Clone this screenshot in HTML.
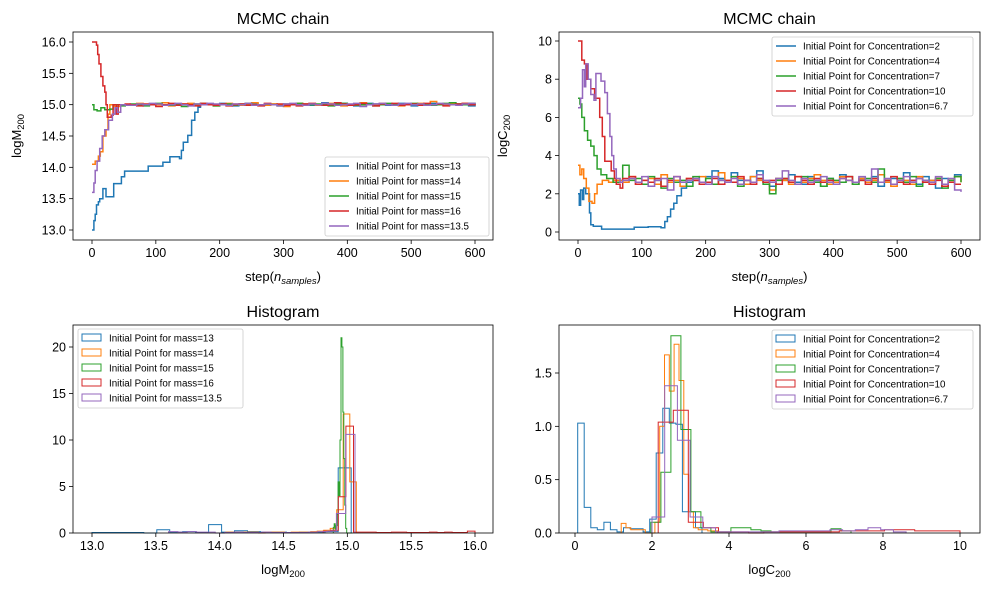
<!DOCTYPE html>
<html><head><meta charset="utf-8"><style>
body{margin:0;background:#fff}
svg{display:block;font-family:"Liberation Sans","DejaVu Sans",sans-serif}
</style></head><body>
<svg id="fig" width="987" height="590" viewBox="0 0 987 590"></svg>
<script>
const colors=['#1f77b4','#ff7f0e','#2ca02c','#d62728','#9467bd'];
const massLabels=['Initial Point for mass=13','Initial Point for mass=14','Initial Point for mass=15','Initial Point for mass=16','Initial Point for mass=13.5'];
const concLabels=['Initial Point for Concentration=2','Initial Point for Concentration=4','Initial Point for Concentration=7','Initial Point for Concentration=10','Initial Point for Concentration=6.7'];
const massXTicks=[0,100,200,300,400,500,600];
const massYTicks=[13.0,13.5,14.0,14.5,15.0,15.5,16.0];
const concYTicks=[0,2,4,6,8,10];
const histMassXTicks=[13.0,13.5,14.0,14.5,15.0,15.5,16.0];
const histMassYTicks=[0,5,10,15,20];
const histConcXTicks=[0,2,4,6,8,10];
const histConcYTicks=[0,0.5,1.0,1.5];

const mass13Head=[[0,13.0],[3,13.15],[5,13.25],[7,13.4],[10,13.45],[12,13.5],[17,13.66],[22,13.53],[34,13.74],[46,13.85],[51,13.94],[88,14.02],[111,14.08],[122,14.17],[137,14.14],[140,14.27],[143,14.4],[150,14.51],[156,14.75],[161,14.88],[166,14.96]];
const mass14Head=[[0,14.05],[5,14.1],[10,14.18],[13,14.25],[17,14.5],[22,14.6],[25,14.85],[28,15.0],[35,14.97],[45,15.0],[52,14.99]];
const mass15Head=[[0,15.0],[3,14.92],[8,14.9],[14,14.95],[20,14.92],[28,14.93],[33,15.0],[45,14.98],[52,15.0]];
const mass16Head=[[0,16.0],[7,15.95],[9,15.8],[11,15.65],[14,15.45],[17,15.3],[20,15.2],[22,15.0],[24,14.8],[30,14.83],[33,15.0],[38,14.85],[41,15.0],[52,15.01]];
const mass135Head=[[0,13.6],[3,13.75],[5,13.95],[8,14.1],[12,14.3],[16,14.5],[20,14.6],[26,14.75],[32,14.85],[36,14.95],[40,14.88],[45,15.0],[52,14.99]];
const massTailStart=[170,60,60,60,60];
const mass13Tail=[15.0,15.01,14.99,15.02,15.0,14.98,15.01,15.0,15.02,14.99,15.0,15.01,15.0,14.98,15.0,15.02,15.01,14.99,15.0,15.03,15.01,14.99,15.02,15.0,14.98,15.0,15.02,15.01,15.0,14.99,15.01,15.02,15.0,14.98,15.0,15.01,15.02,15.0,14.99,15.02,15.01,15.0,14.98,15.01];
const mass14Tail=[15.0,15.02,14.99,15.01,15.0,15.03,14.98,15.0,15.01,15.02,14.99,15.0,15.01,14.98,15.0,15.02,15.01,14.99,15.0,15.03,15.0,14.99,15.01,15.0,14.97,15.0,15.02,15.01,15.0,14.99,15.01,15.02,15.0,14.98,15.0,15.01,15.03,15.0,14.99,15.02,15.01,15.0,14.98,15.01,15.0,15.02,15.01,15.05,15.0,14.99,15.01,15.0,15.02,15.0,14.99];
const mass15Tail=[15.01,15.0,14.98,15.0,15.02,15.0,14.99,15.01,14.97,15.0,15.01,15.02,15.0,14.98,15.0,15.01,14.99,15.0,15.02,15.0,14.99,15.01,15.0,14.98,15.01,15.0,15.02,14.99,15.0,15.01,15.0,14.98,15.01,15.02,15.0,14.99,15.0,15.01,14.98,15.0,15.02,15.01,14.99,15.0,15.02,15.0,15.01,14.99,15.0,15.02,15.03,15.01,15.0,15.02,15.01];
const mass16Tail=[15.0,14.98,15.01,15.0,14.97,15.0,15.02,14.99,15.01,15.0,14.98,15.02,15.0,14.99,15.01,14.98,15.0,15.01,14.99,15.0,14.98,15.02,15.0,15.01,14.99,15.0,14.98,15.01,15.02,15.0,14.99,15.0,15.03,15.01,14.99,15.0,15.02,15.0,14.98,15.01,15.0,15.02,14.99,15.0,15.01,14.99,15.02,15.0,15.01,14.98,15.0,15.01,15.02,15.0,15.01];
const mass135Tail=[14.99,15.01,15.0,15.02,15.01,14.99,15.0,15.02,15.0,14.98,15.01,15.0,15.02,15.01,15.0,14.99,15.01,15.0,15.02,14.99,15.0,15.01,15.0,14.98,15.01,15.02,15.0,14.99,15.01,15.0,15.02,15.01,14.99,15.0,15.01,15.02,14.97,15.0,15.01,15.02,15.0,14.99,15.01,15.02,15.0,15.01,14.99,15.0,15.02,15.01,15.0,14.99,15.01,15.02,15.03];

const conc2Head=[[0,2.0],[2,1.4],[4,2.2],[7,1.7],[9,2.3],[12,2.0],[18,1.0],[20,0.38],[24,0.3],[37,0.15],[86,0.15],[88,0.25],[110,0.28],[130,0.22],[136,0.55],[140,0.8],[145,1.2],[150,1.5],[155,1.9],[162,2.3]];
const conc4Head=[[0,3.5],[3,3.0],[6,3.3],[9,2.8],[13,2.3],[17,1.6],[22,1.5],[26,2.0],[30,2.5],[38,2.7],[48,2.6],[55,2.7]];
const conc7Head=[[0,7.0],[3,6.7],[6,6.0],[10,5.3],[15,4.8],[20,4.5],[25,4.0],[30,3.3],[36,3.0],[45,2.8],[55,2.6]];
const conc10Head=[[0,10.0],[6,9.0],[10,8.8],[14,8.0],[20,7.5],[26,7.0],[34,6.0],[38,5.0],[42,3.7],[52,3.2],[57,2.8],[60,2.5],[66,2.3],[70,2.8]];
const conc67Head=[[0,6.5],[4,7.0],[7,8.5],[10,7.6],[12,8.8],[16,8.0],[20,7.2],[25,6.9],[28,8.3],[36,7.9],[42,7.3],[46,6.2],[50,5.0],[53,4.0],[56,3.3],[60,2.8],[66,2.6]];
const concTailStart=[170,60,60,80,70];
const conc2Tail=[2.6,2.7,2.5,2.9,3.2,2.8,2.6,3.1,2.7,2.5,2.9,3.2,2.6,2.4,2.8,2.7,3.0,2.6,2.5,2.9,2.7,2.4,2.8,2.6,3.0,2.7,2.5,2.8,2.6,2.9,2.4,2.7,2.8,2.6,3.1,2.7,2.5,2.9,2.7,2.3,2.8,2.6,3.0,2.9];
const conc4Tail=[2.7,2.6,2.9,2.5,2.7,2.8,2.5,3.0,2.6,2.7,2.4,2.8,2.7,2.9,2.6,2.5,3.1,2.7,2.6,2.8,2.5,2.9,2.7,2.6,2.2,2.8,2.7,2.5,2.9,2.6,2.8,3.0,2.7,2.5,2.6,2.9,2.7,2.5,2.8,2.6,2.7,3.0,2.6,2.4,2.8,2.7,2.5,2.9,2.6,2.7,2.8,2.5,2.7,2.9,2.6];
const conc7Tail=[2.6,3.5,2.7,2.8,2.5,2.9,2.7,2.3,2.8,2.6,2.7,2.4,2.9,2.6,2.8,2.5,2.7,2.6,2.9,2.4,2.7,2.6,2.8,2.5,2.0,2.7,2.8,2.6,2.5,2.9,2.7,2.6,2.4,2.8,2.7,2.6,2.9,2.5,2.7,2.8,2.6,3.3,2.7,2.5,2.8,2.6,2.9,2.4,2.7,2.6,2.8,2.3,2.7,2.9,2.6];
const conc10Tail=[2.9,2.5,2.7,2.6,2.8,2.4,2.7,2.9,2.6,2.8,2.7,2.5,2.6,2.8,2.5,2.7,2.6,2.9,2.7,2.5,2.8,2.6,2.7,2.5,2.8,2.6,2.9,2.7,2.5,2.8,2.6,2.7,2.5,2.8,2.9,2.6,2.7,2.5,2.8,2.6,2.7,2.9,2.6,2.5,2.7,2.8,2.6,2.5,2.7,2.4,2.6,2.5];
const conc67Tail=[2.7,2.8,2.6,2.9,2.4,2.7,2.8,2.2,2.9,2.6,2.7,2.8,2.6,2.5,2.9,2.7,2.6,2.8,2.5,2.7,2.6,3.0,2.7,2.6,2.8,3.2,2.7,2.5,2.8,2.6,2.7,2.9,2.6,2.5,2.8,2.7,2.6,2.9,2.7,3.3,2.6,2.8,2.5,2.7,2.9,2.6,2.8,2.7,2.6,2.9,2.5,2.8,2.2,2.1];

const histMassStart=[13.0,14.05,14.89,14.81,13.6];
const histMassWidth=[0.1015,0.051,0.0075,0.0595,0.073];
const histMass13=[0.05,0.05,0.05,0.05,0,0.35,0.1,0.15,0.05,0.9,0.1,0.25,0.15,0.1,0.1,0.05,0.1,0.1,0.15,7.0];
const histMass14=[0.1,0.1,0.1,0.1,0.1,0,0.1,0.1,0.1,0.05,0.1,0.1,0.1,0.15,0.2,0.3,0.5,2.5,12.8,5.5];
const histMass15=[0.6,1.0,0.4,0.8,2.0,5.5,4.0,10.0,21.0,20.0,13.0,8.0,3.0,0.5,0,0,0,0,0,0];
const histMass16=[0.2,0.3,3.9,11.5,0.1,0.1,0.1,0.05,0.05,0.1,0.1,0.05,0.05,0.05,0.1,0.05,0.1,0.05,0.05,0.2];
const histMass135=[0.15,0.1,0.15,0.1,0.1,0,0.05,0.1,0.05,0.05,0.1,0.05,0.05,0.05,0.05,0.1,0.15,0.2,2.1,10.6];
const histConcStart=[0.07,1.2,1.97,2.16,2.0];
const histConcWidth=[0.17,0.125,0.26,0.392,0.33];
const histConc2=[1.03,0.24,0.05,0.03,0.1,0.03,0.01,0.05,0.04,0.04,0.01,0.13,0.75,1.17,1.03,1.02,0.2,0.2,0.05];
const histConc4=[0.09,0.05,0.03,0.03,0.03,0,0,0.1,1.0,1.67,1.33,1.77,1.43,0.55,0.2,0.05,0.03,0.03,0.02,0.02];
const histConc7=[0.1,0.57,1.85,0.97,0.2,0.05,0.01,0.01,0.05,0.05,0.03,0.02,0.01,0.01,0.01,0.01,0.01,0.01,0.04,0.02];
const histConc10=[1.04,1.15,0.1,0.05,0.01,0.01,0,0.01,0.01,0.01,0.01,0.01,0.02,0.02,0.02,0.03,0.03,0.02,0.02,0.02];
const histConc67=[0.15,1.38,0.87,0.15,0.05,0.01,0.01,0.01,0.01,0.01,0.02,0.02,0.02,0.02,0.03,0.02,0.03,0.05,0.03,0.01];

const NS='http://www.w3.org/2000/svg';
const svg=document.getElementById('fig');
function mk(tag,attrs,parent){const e=document.createElementNS(NS,tag);for(const k in attrs)e.setAttribute(k,attrs[k]);(parent||svg).appendChild(e);return e;}
function linScale(d0,d1,r0,r1){return v=>r0+(v-d0)*(r1-r0)/(d1-d0);}

const panels=[
 {name:'mass-chain',box:[73,32,493,240],x:linScale(0,600,92,475),y:linScale(13,16,230,42),xt:massXTicks,yt:massYTicks,fx:v=>String(v),fy:v=>v.toFixed(1),title:'MCMC chain',xl:'step',yl:['logM','200']},
 {name:'conc-chain',box:[559,32,980,240],x:linScale(0,600,578,961),y:linScale(0,10,232,41),xt:massXTicks,yt:concYTicks,fx:v=>String(v),fy:v=>String(v),title:'MCMC chain',xl:'step',yl:['logC','200']},
 {name:'mass-hist',box:[73,325,493,533],x:linScale(13,16,92,475),y:linScale(0,20,533,347),xt:histMassXTicks,yt:histMassYTicks,fx:v=>v.toFixed(1),fy:v=>String(v),title:'Histogram',xl:['logM','200'],yl:null},
 {name:'conc-hist',box:[559,325,980,533],x:linScale(0,10,575,960),y:linScale(0,1.5,533,373),xt:histConcXTicks,yt:histConcYTicks,fx:v=>String(v),fy:v=>v.toFixed(1),title:'Histogram',xl:['logC','200'],yl:null}
];

function drawChain(p,head,tail,tailStart,color,name){
  const pts=head.slice();
  for(let i=0;i<tail.length;i++)pts.push([tailStart+i*10,tail[i]]);
  pts.push([600,pts[pts.length-1][1]]);
  let d='M'+p.x(pts[0][0]).toFixed(1)+','+p.y(pts[0][1]).toFixed(1);
  for(let i=1;i<pts.length;i++){d+='H'+p.x(pts[i][0]).toFixed(1)+'V'+p.y(pts[i][1]).toFixed(1);}
  const e=mk('path',{d:d,fill:'none',stroke:color,'stroke-width':1.5});
  
  
}
function drawHist(p,start,w,counts,color,name){
  const y0=p.y(0);
  let d='M'+p.x(start).toFixed(1)+','+y0.toFixed(1);
  for(let i=0;i<counts.length;i++){d+='V'+p.y(counts[i]).toFixed(1)+'H'+p.x(start+(i+1)*w).toFixed(1);}
  d+='V'+y0.toFixed(1);
  const e=mk('path',{d:d,fill:'none',stroke:color,'stroke-width':1});
  
  
}
function subLabel(t,x,y,size,rot){
  const g=mk('text',{x:x,y:y,'font-size':size,'text-anchor':'middle'});
  if(rot)g.setAttribute('transform','rotate(-90 '+x+' '+y+')');
  g.appendChild(document.createTextNode(t[0]));
  const s=mk('tspan',{'font-size':size*0.72,dy:3},g);s.textContent=t[1];
  return g;
}
function stepLabel(x,y){
  const g=mk('text',{x:x,y:y,'font-size':13,'text-anchor':'middle'});
  g.appendChild(document.createTextNode('step('));
  const a=mk('tspan',{'font-style':'italic'},g);a.textContent='n';
  const b=mk('tspan',{'font-size':9.5,'font-style':'italic',dy:3},g);b.textContent='samples';
  const c=mk('tspan',{dy:-3},g);c.textContent=')';
  return g;
}

panels.forEach(p=>{
  const [x0,y0,x1,y1]=p.box;
  p.xt.forEach(v=>{const X=p.x(v);mk('line',{x1:X,x2:X,y1:y1,y2:y1+4,stroke:'#000','stroke-width':0.8});
    const t=mk('text',{x:X,y:y1+17,'font-size':12.5,'text-anchor':'middle'});t.textContent=p.fx(v);
    
    });
  p.yt.forEach(v=>{const Y=p.y(v);mk('line',{x1:x0-4,x2:x0,y1:Y,y2:Y,stroke:'#000','stroke-width':0.8});
    const t=mk('text',{x:x0-7,y:Y+4.5,'font-size':12.5,'text-anchor':'end'});t.textContent=p.fy(v);
    
    });
  const tt=mk('text',{x:(x0+x1)/2,y:y0-8,'font-size':16,'text-anchor':'middle'});tt.textContent=p.title;
  
  
  const xl=p.xl==='step'?stepLabel((x0+x1)/2,y1+41):subLabel(p.xl,(x0+x1)/2,y1+41,13,false);
  
  
  if(p.yl){const yl=subLabel(p.yl,x0-52,(y0+y1)/2,13,true);
    
    }
});

const P=panels;
drawChain(P[0],mass13Head,mass13Tail,massTailStart[0],colors[0],'chain-mass-13');
drawChain(P[0],mass14Head,mass14Tail,massTailStart[1],colors[1],'chain-mass-14');
drawChain(P[0],mass15Head,mass15Tail,massTailStart[2],colors[2],'chain-mass-15');
drawChain(P[0],mass16Head,mass16Tail,massTailStart[3],colors[3],'chain-mass-16');
drawChain(P[0],mass135Head,mass135Tail,massTailStart[4],colors[4],'chain-mass-13-5');
drawChain(P[1],conc2Head,conc2Tail,concTailStart[0],colors[0],'chain-conc-2');
drawChain(P[1],conc4Head,conc4Tail,concTailStart[1],colors[1],'chain-conc-4');
drawChain(P[1],conc7Head,conc7Tail,concTailStart[2],colors[2],'chain-conc-7');
drawChain(P[1],conc10Head,conc10Tail,concTailStart[3],colors[3],'chain-conc-10');
drawChain(P[1],conc67Head,conc67Tail,concTailStart[4],colors[4],'chain-conc-6-7');
[histMass13,histMass14,histMass15,histMass16,histMass135].forEach((c,i)=>drawHist(P[2],histMassStart[i],histMassWidth[i],c,colors[i],'hist-mass-'+i));
[histConc2,histConc4,histConc7,histConc10,histConc67].forEach((c,i)=>drawHist(P[3],histConcStart[i],histConcWidth[i],c,colors[i],'hist-conc-'+i));

panels.forEach(p=>{const [x0,y0,x1,y1]=p.box;
  const r=mk('rect',{x:x0,y:y0,width:x1-x0,height:y1-y0,fill:'none',stroke:'#000','stroke-width':0.8});
  
  });

function legend(x,y,w,labels,isHist,name){
  const g=mk('g',{});
  
  
  mk('rect',{x:x,y:y,width:w,height:labels.length*15+4,rx:2,fill:'#fff','fill-opacity':0.8,stroke:'#ccc','stroke-width':0.8},g);
  labels.forEach((l,i)=>{const cy=y+9+i*15;
    if(isHist)mk('rect',{x:x+4,y:cy-4,width:19,height:7,fill:'none',stroke:colors[i],'stroke-width':1},g);
    else mk('line',{x1:x+4,x2:x+24,y1:cy,y2:cy,stroke:colors[i],'stroke-width':1.5},g);
    const t=mk('text',{x:x+31,y:cy+3.5,'font-size':9.8},g);t.textContent=l;
    
    });
}
legend(325,157,164,massLabels,false,'legend-mass-chain');
legend(772,37,201,concLabels,false,'legend-conc-chain');
legend(78,329,165,massLabels,true,'legend-mass-hist');
legend(772,330,201,concLabels,true,'legend-conc-hist');
</script>
</body></html>
